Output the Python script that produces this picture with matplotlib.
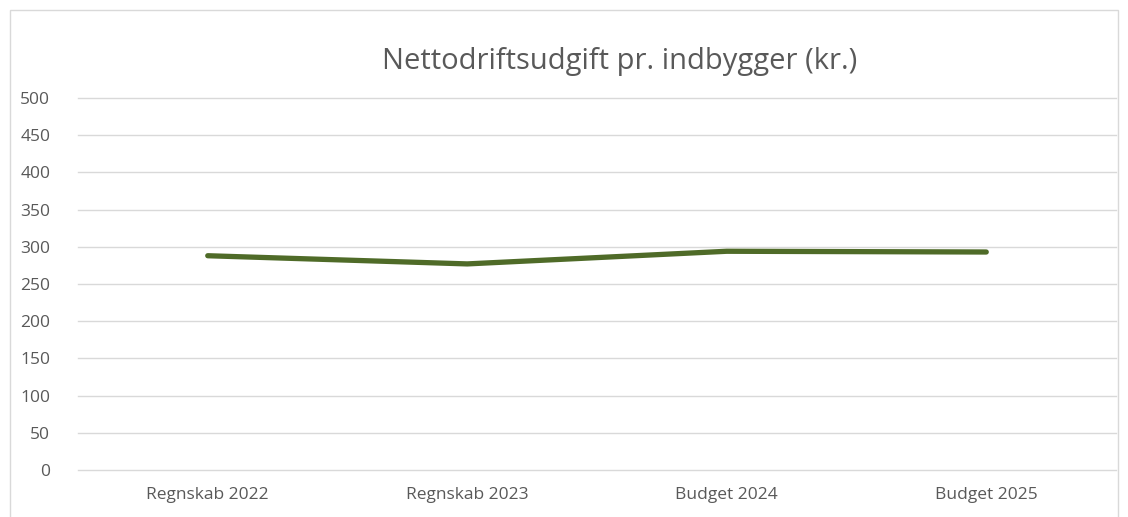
import matplotlib.pyplot as plt
from matplotlib.patches import Rectangle

categories = ["Regnskab 2022", "Regnskab 2023", "Budget 2024", "Budget 2025"]
values = [288, 277, 294, 293]
yticks = list(range(0, 501, 50))

W, H = 1128, 517
plt.rcParams["font.family"] = ["Open Sans", "DejaVu Sans"]

fig = plt.figure(figsize=(W / 100, H / 100), dpi=100)
ax = fig.add_axes([78 / W, 1 - 470 / H, (1116 - 78) / W, (470 - 98) / H])

ax.plot(range(len(categories)), values, color="#4F6B28", linewidth=3.8,
        solid_capstyle="round", solid_joinstyle="round")

ax.set_xlim(-0.5, len(categories) - 0.5)
ax.set_ylim(0, 500)
ax.set_yticks(yticks)
ax.set_xticks(range(len(categories)))
ax.set_xticklabels(categories)
ax.tick_params(length=0, labelsize=12.5, labelcolor="#595959")
ax.tick_params(axis="y", pad=20)
ax.tick_params(axis="x", pad=12)
ax.grid(axis="y", color="#D9D9D9", linewidth=1)
for gl in ax.get_ygridlines():
    gl.set_clip_on(False)
ax.set_axisbelow(True)
for s in ax.spines.values():
    s.set_visible(False)

fig.text(620 / W, 1 - 62 / H, "Nettodriftsudgift pr. indbygger (kr.)",
         ha="center", va="center", fontsize=21, color="#595959")

fig.patches.append(Rectangle((10 / W, -0.05), (1118 - 10) / W, 1 - 10 / H + 0.05,
                             transform=fig.transFigure, fill=False,
                             edgecolor="#D9D9D9", linewidth=1))

fig.savefig("out.png", dpi=100)
